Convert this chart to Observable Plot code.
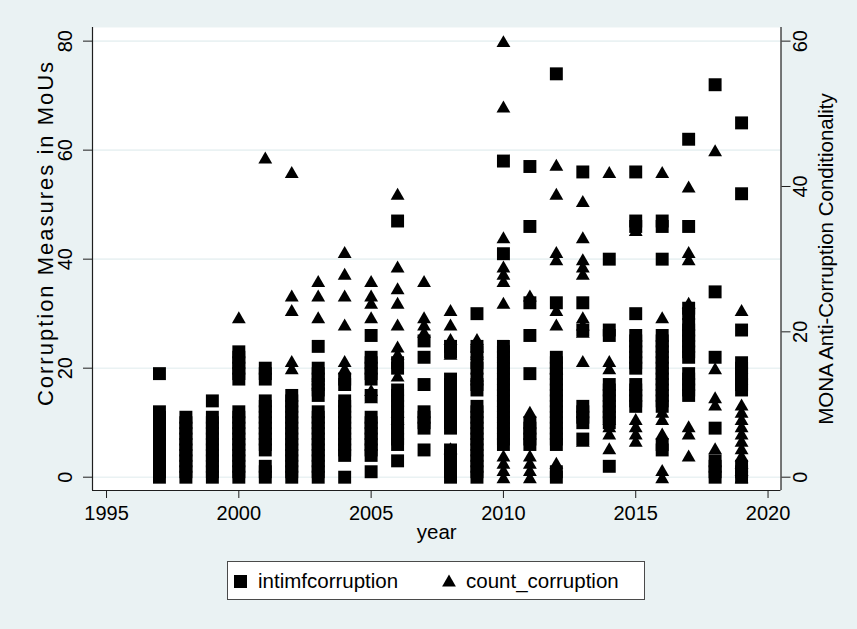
<!DOCTYPE html>
<html>
<head>
<meta charset="utf-8">
<script src="https://cdn.jsdelivr.net/npm/d3@7"></script>
<script src="https://cdn.jsdelivr.net/npm/@observablehq/plot@0.6"></script>
<style>
  html, body { margin: 0; padding: 0; background: #eaf2f3; }
  #wrap { position: relative; width: 857px; height: 629px; overflow: hidden;
          font-family: "Liberation Sans", Arial, Helvetica, sans-serif; }
  #chart svg { display: block; }
  #legend { position: absolute; left: 227px; top: 561px; width: 416px; height: 37px;
            background: #fff; border: 1px solid #4a4a4a; }
  #legend .lt { position: absolute; top: 0; line-height: 37px; font-size: 20.5px; color: #000; white-space: nowrap; }
  #legend .sq { position: absolute; left: 6px; top: 13px; width: 13px; height: 13px; background: #000; }
  #legend svg { position: absolute; left: 214px; top: 12px; }
</style>
</head>
<body>
<div id="wrap">
  <div id="chart"></div>
  <div id="legend">
    <span class="sq"></span><span class="lt" style="left:30px">intimfcorruption</span>
    <svg width="14" height="13" viewBox="0 0 14 13"><path d="M7 0.5 L13.9 12.5 L0.1 12.5 Z" fill="#000"/></svg>
    <span class="lt" style="left:238px">count_corruption</span>
  </div>
</div>
<script>
// ---- data ----
const years = [1997, 1998, 1999, 2000, 2001, 2002, 2003, 2004, 2005, 2006, 2007, 2008,
               2009, 2010, 2011, 2012, 2013, 2014, 2015, 2016, 2017, 2018, 2019];

// intimfcorruption (left axis), one list per year
const intimfcorruption = [
  [0,1,2,3,4,5,6,7,8,9,10,11,12,19],
  [0,1,2,3,4,5,6,7,8,9,10,11],
  [0,1,2,3,4,5,6,7,8,9,10,11,14],
  [0,1,2,3,4,5,6,7,8,9,10,11,12,18,19,20,21,22,23],
  [0,1,2,5,6,7,8,9,10,11,12,13,14,18,19,20],
  [0,1,2,3,4,5,6,7,8,9,10,11,12,13,14,15],
  [0,1,2,3,4,5,6,7,8,9,10,11,12,15,16,17,18,19,20,24],
  [0,4,5,6,7,8,9,10,11,12,13,14,17,18],
  [1,4,5,6,7,8,9,10,11,15,18,19,20,21,22,26],
  [3,6,7,8,9,10,11,12,13,14,15,16,20,21,47],
  [5,9,10,11,12,17,22,25],
  [0,1,2,3,4,5,9,10,11,12,13,14,15,16,17,18,23,24],
  [0,1,2,3,4,5,6,7,8,9,10,11,12,13,16,17,18,20,21,23,24,30],
  [6,7,8,9,10,11,12,13,14,15,16,17,18,19,20,21,22,23,24,41,58],
  [6,7,8,9,10,19,26,32,46,57],
  [0,1,6,7,8,9,10,11,12,13,14,15,16,17,18,19,20,21,22,32,74],
  [7,10,11,12,13,27,32,56],
  [2,10,11,12,13,14,15,16,17,26,27,40],
  [13,14,15,16,17,20,21,22,23,24,25,26,30,46,47,56],
  [5,6,13,14,15,16,17,18,19,20,21,22,23,24,25,26,40,46,47],
  [15,16,17,18,19,22,23,24,25,26,27,28,30,31,46,62],
  [0,1,2,3,9,22,34,72],
  [0,1,2,16,17,18,19,20,21,27,52,65]
];

// count_corruption (right axis), one list per year
const countCorruption = [
  [],
  [],
  [],
  [22],
  [44],
  [15,16,23,25,42],
  [13,14,22,25,27],
  [15,16,21,25,28,31],
  [11,12,22,24,25,27],
  [8,9,14,17,18,21,24,26,29,39],
  [20,21,22,27],
  [4,17,19,21,23],
  [14,17,18,19],
  [0,1,2,3,24,27,28,29,33,51,60],
  [0,1,2,3,9,25],
  [2,15,21,23,30,31,39,43],
  [5,16,20,21,22,28,29,30,33,38],
  [4,6,7,8,15,16,42],
  [5,6,7,8,34],
  [0,1,6,8,9,22,42],
  [3,6,7,24,30,31,40],
  [4,10,11,15,45],
  [0,1,2,3,4,5,6,7,8,9,10,23]
];

const leftTicks = [0, 20, 40, 60, 80];
const rightTicks = [0, 20, 40, 60];
const xTicks = [1995, 2000, 2005, 2010, 2015, 2020];

const leftLabel = "Corruption Measures in MoUs";
const rightLabel = "MONA Anti-Corruption Conditionality";
const xLabel = "year";

// ---- build ----
const rightToLeft = 80 / 60;   // right axis 0–60 spans the same height as left 0–80
const xDomain = [1994.47, 2020.49];
const yDomain = [-2.44, 82.5];

const squares = years.flatMap((yr, i) => intimfcorruption[i].map(v => ({year: yr, value: v})));
const triangles = years.flatMap((yr, i) => countCorruption[i].map(v => ({year: yr, value: v})));

const font = '"Liberation Sans", Arial, Helvetica, sans-serif';
const axisColor = "#1e1e1e";

const chart = Plot.plot({
  width: 857,
  height: 550,
  marginLeft: 92,
  marginRight: 76.5,
  marginTop: 27,
  marginBottom: 60,
  style: {background: "transparent", fontFamily: font, fontSize: "20px", color: "#000", overflow: "visible"},
  x: {domain: xDomain},
  y: {domain: yDomain},
  marks: [
    Plot.frame({fill: "white", stroke: "none"}),
    Plot.gridY(leftTicks, {stroke: "#eaf2f3", strokeOpacity: 1, strokeWidth: 1.6}),
    Plot.dot(squares, {x: "year", y: "value", symbol: "square", r: 7.3, fill: "black", stroke: "none"}),
    Plot.dot(triangles, {x: "year", y: d => d.value * rightToLeft, symbol: "triangle", r: 5.14, fill: "black", stroke: "none", dy: 2}),
    Plot.ruleX(xDomain, {stroke: axisColor, strokeWidth: 1.2}),
    Plot.ruleY([yDomain[0]], {stroke: axisColor, strokeWidth: 1.2}),
    Plot.axisY(leftTicks, {anchor: "left", tickSize: 9, tickFormat: () => "", label: null, stroke: axisColor}),
    Plot.text(leftTicks, {y: d => d, frameAnchor: "left", dx: -26.5, rotate: -90, textAnchor: "middle", text: d => String(d), fontSize: 20, fill: "#000"}),
    Plot.axisY(rightTicks.map(v => v * rightToLeft), {anchor: "right", tickSize: 9, tickFormat: () => "", label: null, stroke: axisColor}),
    Plot.text(rightTicks, {y: d => d * rightToLeft, frameAnchor: "right", dx: 20, rotate: -90, textAnchor: "middle", text: d => String(d), fontSize: 20, fill: "#000"}),
    Plot.axisX(xTicks, {anchor: "bottom", tickSize: 8, tickPadding: 7, fontSize: 20, tickFormat: d => String(d), label: null, stroke: axisColor, fill: "#000"}),
    Plot.text([leftLabel], {frameAnchor: "left", dx: -47, dy: -26, rotate: -90, textAnchor: "middle", text: d => d, fontSize: 22, fill: "#000"}),
    Plot.text([rightLabel], {frameAnchor: "right", dx: 45, rotate: -90, textAnchor: "middle", text: d => d, fontSize: 20.5, fill: "#000"}),
    Plot.text([xLabel], {frameAnchor: "bottom", dy: 48, text: d => d, fontSize: 20.5, fill: "#000"})
  ]
});
// wider letter spacing for the left axis title, as in the reference
chart.querySelectorAll("text").forEach(t => {
  if (t.textContent === leftLabel) t.style.letterSpacing = "2px";
});
document.getElementById("chart").appendChild(chart);
</script>
</body>
</html>
